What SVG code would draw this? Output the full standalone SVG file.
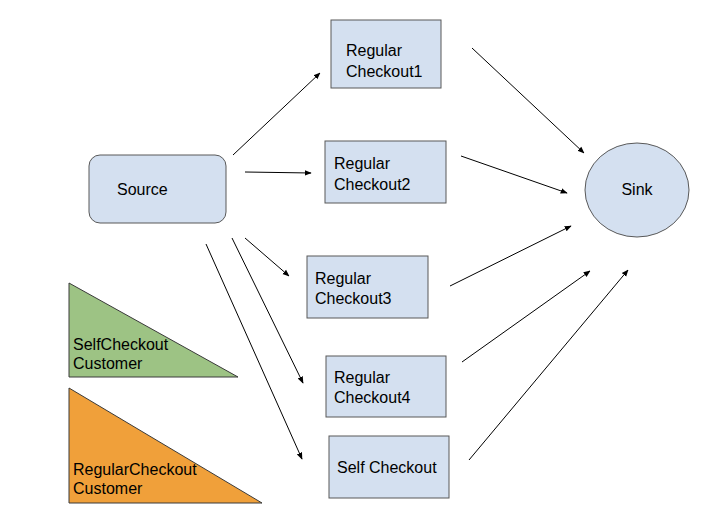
<svg xmlns="http://www.w3.org/2000/svg" width="722" height="520" viewBox="0 0 722 520">
<defs>
<style>
.box{fill:#d4e0f0;stroke:#595959;stroke-width:1}
.t{font-family:"Liberation Sans",Arial,sans-serif;font-size:16px;fill:#000}
.c line{stroke:#000;stroke-width:1;marker-end:url(#ah)}
</style>
<marker id="ah" viewBox="0 0 10 10" refX="9" refY="5" markerWidth="7" markerHeight="7" markerUnits="userSpaceOnUse" orient="auto">
<path d="M0,1 L10,5 L0,9 z" fill="#000"/>
</marker>
</defs>
<rect width="722" height="520" fill="#fff"/>
<g id="source"><rect class="box" x="89" y="155" width="137" height="68" rx="11"/><text class="t" x="117" y="195">Source</text></g>
<g id="rc1"><rect class="box" x="331" y="20" width="110" height="68"/><text class="t" x="346" y="56">Regular</text><text class="t" x="346" y="77">Checkout1</text></g>
<g id="rc2"><rect class="box" x="325" y="141" width="121" height="62"/><text class="t" x="334" y="169">Regular</text><text class="t" x="334" y="190">Checkout2</text></g>
<g id="rc3"><rect class="box" x="307" y="256" width="121" height="62"/><text class="t" x="315" y="284">Regular</text><text class="t" x="315" y="304">Checkout3</text></g>
<g id="rc4"><rect class="box" x="326" y="356" width="120" height="61"/><text class="t" x="334" y="383">Regular</text><text class="t" x="334" y="403">Checkout4</text></g>
<g id="self"><rect class="box" x="329" y="436" width="120" height="62"/><text class="t" x="337" y="473">Self Checkout</text></g>
<g id="sink"><ellipse class="box" cx="637" cy="190" rx="52" ry="47"/><text class="t" x="637" y="195" text-anchor="middle">Sink</text></g>
<g id="selfcust"><polygon points="69,283 69,377 238,377" fill="#9dc384" stroke="#3a3a3a" stroke-width="1"/><text class="t" x="73" y="350">SelfCheckout</text><text class="t" x="73" y="369">Customer</text></g>
<g id="regcust"><polygon points="69,388 69,503 262,503" fill="#f0a03a" stroke="#3a3a3a" stroke-width="1"/><text class="t" x="73" y="475">RegularCheckout</text><text class="t" x="73" y="494">Customer</text></g>
<g class="c" id="connectors">
<line x1="233" y1="155" x2="320" y2="73"/>
<line x1="245" y1="172" x2="311" y2="173"/>
<line x1="245" y1="238" x2="289" y2="276"/>
<line x1="232" y1="238" x2="303" y2="383"/>
<line x1="206" y1="244" x2="302" y2="459"/>
<line x1="472" y1="48" x2="584" y2="153"/>
<line x1="461" y1="156" x2="567" y2="193"/>
<line x1="450" y1="286" x2="571" y2="226"/>
<line x1="462" y1="362" x2="590" y2="271"/>
<line x1="469" y1="460" x2="628" y2="270"/>
</g>
</svg>
